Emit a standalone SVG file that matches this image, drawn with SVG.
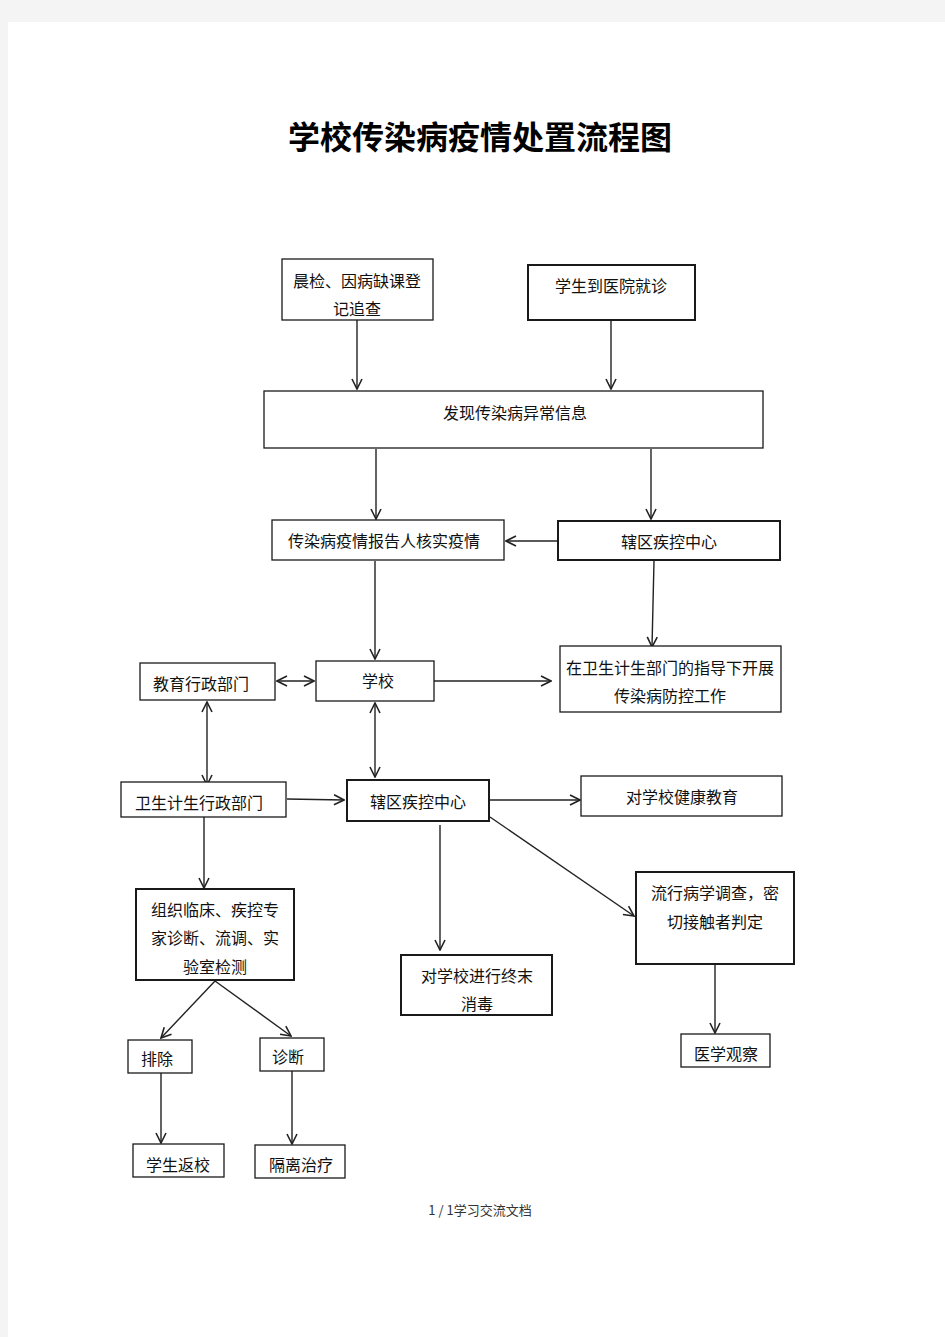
<svg xmlns="http://www.w3.org/2000/svg" width="945" height="1337" viewBox="0 0 945 1337">
<defs>
<style>
.bx{fill:#fff;stroke:#1a1a1a;stroke-width:1.3}
.bt{fill:#fff;stroke:#1a1a1a;stroke-width:2}
.t{font-family:"Noto Sans CJK SC","Noto Sans",sans-serif;font-size:16px;fill:#111;text-anchor:middle;dominant-baseline:central}
.c{fill:none;stroke:#222;stroke-width:1.4}
</style>
<marker id="ah" viewBox="0 0 12 12" refX="11" refY="6" markerWidth="12" markerHeight="12" markerUnits="userSpaceOnUse" orient="auto-start-reverse">
<path d="M1,1 L11,6 L1,11" fill="none" stroke="#222" stroke-width="1.6"/>
</marker>
</defs>
<rect x="0" y="0" width="945" height="1337" fill="#f4f4f4"/>
<rect x="8" y="22" width="937" height="1315" fill="#fff"/>
<text x="480" y="135" font-family="Noto Sans CJK SC,sans-serif" font-size="32" font-weight="bold" text-anchor="middle" dominant-baseline="central" fill="#000">学校传染病疫情处置流程图</text>

<g id="connectors">
<line class="c" x1="357" y1="320" x2="357" y2="389" marker-end="url(#ah)"/>
<line class="c" x1="611" y1="320" x2="611" y2="389" marker-end="url(#ah)"/>
<line class="c" x1="376" y1="449" x2="376" y2="519" marker-end="url(#ah)"/>
<line class="c" x1="651" y1="449" x2="651" y2="519" marker-end="url(#ah)"/>
<line class="c" x1="558" y1="541" x2="506" y2="541" marker-end="url(#ah)"/>
<line class="c" x1="375" y1="561" x2="375" y2="659" marker-end="url(#ah)"/>
<line class="c" x1="654" y1="561" x2="652" y2="647" marker-end="url(#ah)"/>
<line class="c" x1="277" y1="681" x2="314" y2="681" marker-start="url(#ah)" marker-end="url(#ah)"/>
<line class="c" x1="434" y1="681" x2="551" y2="681" marker-end="url(#ah)"/>
<line class="c" x1="207" y1="702" x2="207" y2="785" marker-start="url(#ah)" marker-end="url(#ah)"/>
<line class="c" x1="375" y1="703" x2="375" y2="777" marker-start="url(#ah)" marker-end="url(#ah)"/>
<line class="c" x1="287" y1="799" x2="344" y2="800" marker-end="url(#ah)"/>
<line class="c" x1="490" y1="800" x2="580" y2="800" marker-end="url(#ah)"/>
<line class="c" x1="204" y1="817" x2="204" y2="888" marker-end="url(#ah)"/>
<line class="c" x1="440" y1="825" x2="440" y2="950" marker-end="url(#ah)"/>
<line class="c" x1="490" y1="817" x2="634" y2="916" marker-end="url(#ah)"/>
<line class="c" x1="715" y1="964" x2="715" y2="1033" marker-end="url(#ah)"/>
<line class="c" x1="215" y1="981" x2="161" y2="1038" marker-end="url(#ah)"/>
<line class="c" x1="215" y1="981" x2="291" y2="1036" marker-end="url(#ah)"/>
<line class="c" x1="161" y1="1073" x2="161" y2="1143" marker-end="url(#ah)"/>
<line class="c" x1="292" y1="1071" x2="292" y2="1144" marker-end="url(#ah)"/>
</g>

<g id="n-chenjian"><rect class="bx" x="282" y="259" width="151" height="61"/><text class="t" x="357" y="280">晨检、因病缺课登</text><text class="t" x="357" y="308">记追查</text></g>
<g id="n-hospital"><rect class="bt" x="528" y="265" width="167" height="55"/><text class="t" x="611" y="285">学生到医院就诊</text></g>
<g id="n-faxian"><rect class="bx" x="264" y="391" width="499" height="57"/><text class="t" x="515" y="412">发现传染病异常信息</text></g>
<g id="n-reporter"><rect class="bx" x="272" y="520" width="232" height="40"/><text class="t" x="384" y="540">传染病疫情报告人核实疫情</text></g>
<g id="n-cdc1"><rect class="bt" x="558" y="521" width="222" height="39"/><text class="t" x="669" y="541">辖区疾控中心</text></g>
<g id="n-school"><rect class="bx" x="316" y="661" width="118" height="40"/><text class="t" x="378" y="680">学校</text></g>
<g id="n-edu"><rect class="bx" x="140" y="663" width="135" height="37"/><text class="t" x="201" y="683">教育行政部门</text></g>
<g id="n-guide"><rect class="bx" x="560" y="646" width="221" height="66"/><text class="t" x="670" y="667" font-size="15">在卫生计生部门的指导下开展</text><text class="t" x="670" y="695" font-size="15">传染病防控工作</text></g>
<g id="n-health"><rect class="bx" x="121" y="782" width="165" height="35"/><text class="t" x="199" y="802">卫生计生行政部门</text></g>
<g id="n-cdc2"><rect class="bt" x="347" y="780" width="142" height="41"/><text class="t" x="418" y="801">辖区疾控中心</text></g>
<g id="n-edu2"><rect class="bx" x="581" y="776" width="201" height="40"/><text class="t" x="682" y="796">对学校健康教育</text></g>
<g id="n-expert"><rect class="bt" x="136" y="889" width="158" height="91"/><text class="t" x="215" y="909">组织临床、疾控专</text><text class="t" x="215" y="937">家诊断、流调、实</text><text class="t" x="215" y="966">验室检测</text></g>
<g id="n-disinfect"><rect class="bt" x="401" y="955" width="151" height="60"/><text class="t" x="477" y="975">对学校进行终末</text><text class="t" x="477" y="1003">消毒</text></g>
<g id="n-epi"><rect class="bt" x="636" y="872" width="158" height="92"/><text class="t" x="715" y="892">流行病学调查，密</text><text class="t" x="715" y="921">切接触者判定</text></g>
<g id="n-observe"><rect class="bx" x="681" y="1034" width="89" height="33"/><text class="t" x="726" y="1053">医学观察</text></g>
<g id="n-exclude"><rect class="bx" x="128" y="1040" width="64" height="33"/><text class="t" x="157" y="1058">排除</text></g>
<g id="n-diag"><rect class="bx" x="260" y="1038" width="64" height="33"/><text class="t" x="288" y="1056">诊断</text></g>
<g id="n-return"><rect class="bx" x="133" y="1144" width="91" height="33"/><text class="t" x="178" y="1164">学生返校</text></g>
<g id="n-isolate"><rect class="bx" x="255" y="1145" width="90" height="33"/><text class="t" x="301" y="1164">隔离治疗</text></g>
<text x="480" y="1209" font-family="Noto Sans CJK SC,sans-serif" font-size="13" text-anchor="middle" dominant-baseline="central" fill="#333">1 / 1学习交流文档</text>
</svg>
